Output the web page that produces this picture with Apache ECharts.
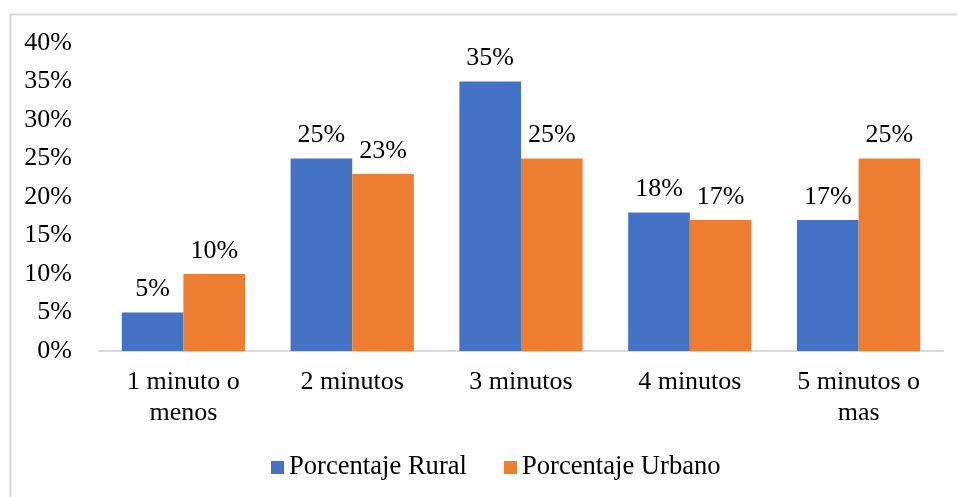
<!DOCTYPE html>
<html>
<head>
<meta charset="utf-8">
<script src="https://cdn.jsdelivr.net/npm/echarts@6/dist/echarts.min.js"></script>
<style>
  html, body { margin: 0; padding: 0; background: #ffffff; }
  #chart { width: 957px; height: 497px; }
</style>
</head>
<body>
<div id="chart"></div>
<script>
// Tiempo de respuesta por zona
const categories = ['1 minuto o\nmenos', '2 minutos', '3 minutos', '4 minutos', '5 minutos o\nmas'];
const rural = [5, 25, 35, 18, 17];
const urbano = [10, 23, 25, 17, 25];
const yTicks = [0, 5, 10, 15, 20, 25, 30, 35, 40];

const FONT = '"Liberation Serif", "Times New Roman", serif';
const TEXT = '#000000';
const SIZE = 26;

const chart = echarts.init(document.getElementById('chart'), null, { renderer: 'canvas' });

const labelStyle = {
  show: true,
  position: 'top',
  distance: 10,
  formatter: p => p.value + '%',
  fontFamily: FONT,
  fontSize: SIZE,
  color: TEXT
};

chart.setOption({
  animation: false,
  backgroundColor: '#ffffff',
  graphic: [{
    type: 'rect',
    shape: { x: 10.5, y: 14.5, width: 1000, height: 1000 },
    style: { fill: 'none', stroke: '#d9d9d9', lineWidth: 2 },
    silent: true
  }],
  grid: { left: 99, right: 14, top: 43, bottom: 146, containLabel: false },
  legend: {
    top: 454,
    left: 271,
    padding: 0,
    itemWidth: 13,
    itemHeight: 13,
    itemGap: 37,
    icon: 'rect',
    textStyle: { fontFamily: FONT, fontSize: 26.6, color: TEXT },
    data: ['Porcentaje Rural', 'Porcentaje Urbano']
  },
  xAxis: {
    type: 'category',
    data: categories,
    axisLine: { show: true, lineStyle: { color: '#d9d9d9', width: 2 } },
    axisTick: { show: false },
    axisLabel: {
      fontFamily: FONT, fontSize: SIZE, color: TEXT,
      lineHeight: 31, margin: 16, interval: 0
    }
  },
  yAxis: {
    type: 'value',
    min: yTicks[0],
    max: yTicks[yTicks.length - 1],
    interval: yTicks[1] - yTicks[0],
    axisLine: { show: false },
    axisTick: { show: false },
    splitLine: { show: false },
    axisLabel: {
      fontFamily: FONT, fontSize: SIZE, color: TEXT, margin: 27,
      formatter: v => v + '%'
    }
  },
  series: [
    {
      name: 'Porcentaje Rural',
      type: 'bar',
      data: rural,
      barGap: '0%',
      barCategoryGap: '27%',
      itemStyle: { color: '#4472c4' },
      label: labelStyle
    },
    {
      name: 'Porcentaje Urbano',
      type: 'bar',
      data: urbano,
      barGap: '0%',
      barCategoryGap: '27%',
      itemStyle: { color: '#ed7d31' },
      label: labelStyle
    }
  ]
});
</script>
</body>
</html>
